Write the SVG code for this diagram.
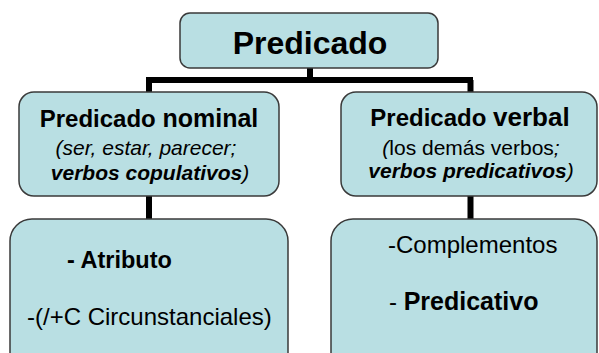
<svg xmlns="http://www.w3.org/2000/svg" width="599" height="353" viewBox="0 0 599 353">
<style>
.box{fill:#B9DFE3;stroke:#3a3a3a;stroke-width:1.5}
.t{font-family:"Liberation Sans",Arial,sans-serif;fill:#000}
.b{font-weight:bold}
.i{font-style:italic}
.c{text-anchor:middle}
.conn{fill:none;stroke:#000;stroke-width:6}
</style>
<rect width="599" height="353" fill="#fff"/>
<g id="connectors">
<path class="conn" d="M310 68V80M146 80H473M149 80V92M470.5 80V92"/>
<path class="conn" d="M149 196V219M470.5 196V219"/>
</g>
<g id="predicado">
<rect class="box" x="180" y="13" width="258" height="55" rx="10"/>
<text class="t b c" x="310" y="54" font-size="32">Predicado</text>
</g>
<g id="nominal">
<rect class="box" x="19" y="92" width="260" height="104" rx="15"/>
<text class="t b c" x="149" y="127" font-size="24">Predicado <tspan font-size="25">nominal</tspan></text>
<text class="t i c" x="146" y="155" font-size="21">(ser, estar, parecer;</text>
<text class="t i c" x="150" y="180" font-size="21"><tspan class="b">verbos copulativos</tspan>)</text>
</g>
<g id="verbal">
<rect class="box" x="341" y="92" width="256" height="104" rx="15"/>
<text class="t b c" x="470" y="126" font-size="24">Predicado <tspan font-size="26">verbal</tspan></text>
<text class="t c" x="471" y="155" font-size="21"><tspan class="i">(</tspan>los demás verbos<tspan class="i">;</tspan></text>
<text class="t i c" x="471" y="178" font-size="21"><tspan class="b">verbos predicativos</tspan>)</text>
</g>
<g id="atributo">
<rect class="box" x="10" y="219" width="278" height="160" rx="22"/>
<text class="t b" x="67" y="268" font-size="23.5">- Atributo</text>
<text class="t" x="27" y="325" font-size="24">-(/+C Circunstanciales)</text>
</g>
<g id="complementos">
<rect class="box" x="331" y="219" width="266" height="160" rx="22"/>
<text class="t" x="388" y="253" font-size="24">-Complementos</text>
<text class="t" x="389" y="310" font-size="24">- <tspan class="b" font-size="25">Predicativo</tspan></text>
</g>
</svg>
